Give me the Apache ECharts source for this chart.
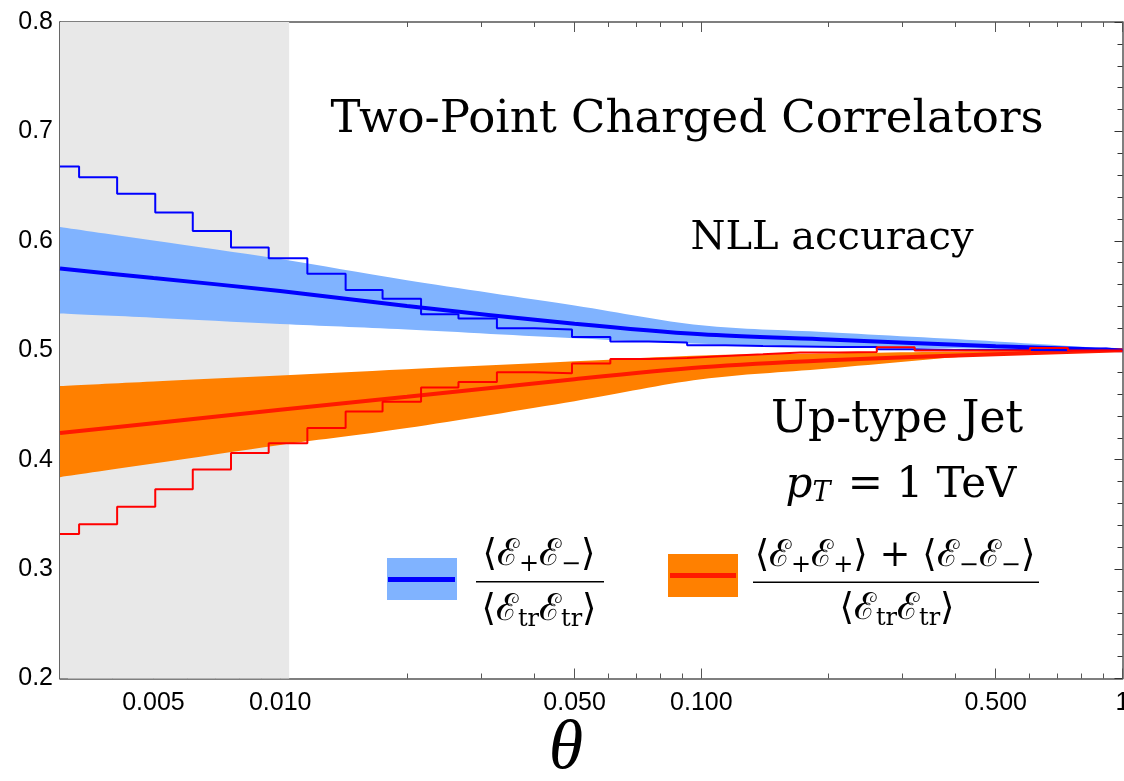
<!DOCTYPE html>
<html>
<head>
<meta charset="utf-8">
<script src="https://cdn.jsdelivr.net/npm/echarts@6/dist/echarts.min.js"></script>
<style>html,body{margin:0;padding:0;background:#fff}#c{width:1124px;height:781px}</style>
</head>
<body>
<div id="c"></div>
<script>
// ---------------- data ----------------
const xMin = 0.003, xMax = 1;
const yMin = 0.2, yMax = 0.8, yStep = 0.1;

// smooth NLL curves sampled at these angles
const thetaGrid   = [0.003, 0.005, 0.01, 0.02, 0.05, 0.1, 0.2, 0.5, 1];
const blueCentral = [0.5747, 0.5660, 0.5542, 0.5404, 0.5243, 0.5146, 0.5099, 0.5037, 0.5000];
const blueUpper   = [0.6127, 0.6003, 0.5834, 0.5640, 0.5409, 0.5228, 0.5164, 0.5081, 0.5010];
const blueLower   = [0.5335, 0.5297, 0.5239, 0.5189, 0.5109, 0.5059, 0.5031, 0.5011, 0.5000];
const redCentral  = [0.4243, 0.4333, 0.4456, 0.4574, 0.4736, 0.4844, 0.4908, 0.4963, 0.5000];
const orangeUpper = [0.4673, 0.4715, 0.4770, 0.4826, 0.4899, 0.4953, 0.4971, 0.4990, 0.5000];
const orangeLower = [0.3840, 0.3964, 0.4135, 0.4290, 0.4535, 0.4734, 0.4833, 0.4963, 0.5000];

// histogram (left bin edges, last bin closes at xMax)
const binEdges = [0.003, 0.00333, 0.0041, 0.00505, 0.0062, 0.00764, 0.00939, 0.0116, 0.0143, 0.0175,
                  0.0216, 0.0265, 0.0327, 0.0402, 0.0493, 0.0608, 0.075, 0.0925, 0.114, 0.140,
                  0.172, 0.212, 0.261, 0.321, 0.398, 0.490, 0.603, 0.742, 0.914];
const blueStep = [0.668, 0.658, 0.643, 0.626, 0.609, 0.594, 0.584, 0.570, 0.555, 0.547,
                  0.533, 0.529, 0.520, 0.519, 0.512, 0.508, 0.507, 0.5045, 0.5038, 0.5035,
                  0.503, 0.503, 0.5009, 0.5003, 0.5003, 0.5002, 0.4999, 0.5015, 0.5003];
const redStep  = [0.332, 0.341, 0.357, 0.373, 0.391, 0.406, 0.415, 0.429, 0.444, 0.453,
                  0.466, 0.471, 0.480, 0.479, 0.488, 0.492, 0.493, 0.4947, 0.4963, 0.498,
                  0.498, 0.4985, 0.5027, 0.4998, 0.4998, 0.4998, 0.502, 0.4997, 0.4998];

const shadedRange = [0.003, 0.0105];

const xMajorTicks  = [0.005, 0.01, 0.05, 0.1, 0.5, 1];
const xMajorLabels = ['0.005', '0.010', '0.050', '0.100', '0.500', '1'];
const xMinorTicks  = [0.004, 0.006, 0.007, 0.008, 0.009, 0.02, 0.03, 0.04, 0.06, 0.07, 0.08, 0.09,
                      0.2, 0.3, 0.4, 0.6, 0.7, 0.8, 0.9];

// ---------------- chart ----------------
const serif = '"DejaVu Serif", "Liberation Serif", serif';
const sans = '"Liberation Sans", Arial, sans-serif';
const frameColor = '#555';

const pairs = (xs, ys) => xs.map((x, i) => [x, ys[i]]);
const stepPairs = (edges, ys) => edges.map((x, i) => [x, ys[i]]).concat([[xMax, ys[ys.length - 1]]]);

// Catmull-Rom spline through pixel points -> SVG path segments
function splineSegs(p) {
  let d = '';
  for (let i = 0; i < p.length - 1; i++) {
    const p0 = p[Math.max(i - 1, 0)], p1 = p[i], p2 = p[i + 1], p3 = p[Math.min(i + 2, p.length - 1)];
    const c1 = [p1[0] + (p2[0] - p0[0]) / 6, p1[1] + (p2[1] - p0[1]) / 6];
    const c2 = [p2[0] - (p3[0] - p1[0]) / 6, p2[1] - (p3[1] - p1[1]) / 6];
    d += ' C' + c1[0] + ' ' + c1[1] + ' ' + c2[0] + ' ' + c2[1] + ' ' + p2[0] + ' ' + p2[1];
  }
  return d;
}

function bandSeries(name, xs, lo, hi, color, z) {
  return {
    name: name, type: 'custom', xAxisIndex: 0, yAxisIndex: 0, z: z, silent: true, clip: true,
    data: xs.map((x, i) => [x, lo[i], hi[i]]),
    encode: {x: 0, y: [1, 2]},
    renderItem: function (params, api) {
      if (params.dataIndex !== 0) return null;
      const up = xs.map((x, i) => api.coord([x, hi[i]]));
      const dn = xs.map((x, i) => api.coord([x, lo[i]])).reverse();
      const d = 'M' + up[0][0] + ' ' + up[0][1] + splineSegs(up) +
                ' L' + dn[0][0] + ' ' + dn[0][1] + splineSegs(dn) + ' Z';
      return {type: 'path', shape: {pathData: d}, style: {fill: color}};
    }
  };
}

const logMin = Math.log10(xMin), logMax = Math.log10(xMax);
function tickAxis(position, values, len, labels, showLine) {
  const pos = values.map(v => Math.log10(v));
  return {
    type: 'value', position: position, min: logMin, max: logMax, gridIndex: 0,
    axisLine: {show: !!showLine, onZero: false, lineStyle: {color: frameColor, width: 1.5}},
    splitLine: {show: false},
    minorTick: {show: false},
    axisTick: {show: true, inside: true, length: len, customValues: pos,
               lineStyle: {color: frameColor, width: 1}},
    axisLabel: labels ? {
      show: true, customValues: pos, margin: 12, color: '#000', fontSize: 25, fontFamily: sans,
      formatter: function (v) {
        let best = 0, d = 1e9;
        pos.forEach((p, i) => { const dd = Math.abs(p - v); if (dd < d) { d = dd; best = i; } });
        return labels[best];
      }
    } : {show: false}
  };
}

const yAxisBase = (position, showLabels) => ({
  type: 'value', position: position, min: yMin, max: yMax, interval: yStep,
  axisLine: {show: true, onZero: false, lineStyle: {color: position === 'left' ? '#333' : frameColor, width: 1.5}},
  axisTick: {show: true, inside: true, length: 8, lineStyle: {color: '#333', width: 1}},
  minorTick: {show: true, splitNumber: 5, length: 5, lineStyle: {color: '#333', width: 1}},
  splitLine: {show: false},
  axisLabel: showLabels ? {show: true, margin: 7, color: '#000', fontSize: 25, fontFamily: sans,
                           formatter: v => v.toFixed(1)} : {show: false}
});

const fracRich = {
  a: {fontSize: 37, fontFamily: serif},
  s: {fontSize: 24, fontFamily: serif, padding: [19, 0, 0, 0]}
};

const option = {
  animation: false,
  backgroundColor: '#fff',
  grid: {left: 60, right: 1.5, top: 22, bottom: 102.5, containLabel: false, outerBoundsMode: 'none'},
  xAxis: [
    {type: 'log', logBase: 10, min: xMin, max: xMax, position: 'bottom',
     axisLine: {show: true, onZero: false, lineStyle: {color: frameColor, width: 1.5}},
     axisTick: {show: false}, axisLabel: {show: false}, splitLine: {show: false}, minorTick: {show: false}},
    tickAxis('bottom', xMajorTicks, 10, xMajorLabels, false),
    tickAxis('bottom', xMinorTicks, 5, null, false),
    tickAxis('top', xMajorTicks, 10, null, true),
    tickAxis('top', xMinorTicks, 5, null, false)
  ],
  yAxis: [yAxisBase('left', true), yAxisBase('right', false)],
  series: [
    {name: 'shade', type: 'line', xAxisIndex: 0, yAxisIndex: 0, z: 0,
     data: [[xMin, 0.5]], showSymbol: false, symbol: 'none', lineStyle: {opacity: 0},
     markArea: {silent: true, itemStyle: {color: '#e8e8e8'},
                data: [[{xAxis: shadedRange[0]}, {xAxis: shadedRange[1]}]]}},
    bandSeries('blueBand', thetaGrid, blueLower, blueUpper, '#80b3ff', 2),
    bandSeries('orangeBand', thetaGrid, orangeLower, orangeUpper, '#ff8000', 3),
    {name: 'blueCentral', type: 'line', xAxisIndex: 0, yAxisIndex: 0, z: 4, smooth: 0.3,
     data: pairs(thetaGrid, blueCentral), symbol: 'none', lineStyle: {color: '#0000ff', width: 4}},
    {name: 'redCentral', type: 'line', xAxisIndex: 0, yAxisIndex: 0, z: 4, smooth: 0.3,
     data: pairs(thetaGrid, redCentral), symbol: 'none', lineStyle: {color: '#ff1a00', width: 4}},
    {name: 'blueStep', type: 'line', step: 'end', xAxisIndex: 0, yAxisIndex: 0, z: 5,
     data: stepPairs(binEdges, blueStep), symbol: 'none', lineStyle: {color: '#0000ff', width: 2}},
    {name: 'redStep', type: 'line', step: 'end', xAxisIndex: 0, yAxisIndex: 0, z: 5,
     data: stepPairs(binEdges, redStep), symbol: 'none', lineStyle: {color: '#ff0000', width: 2}}
  ],
  graphic: {elements: [
    {type: 'text', z: 100, x: 687, y: 120,
     style: {text: 'Two-Point Charged Correlators', fill: '#000', fontSize: 45, fontFamily: serif,
             align: 'center', verticalAlign: 'middle'}},
    {type: 'text', z: 100, x: 832, y: 239,
     style: {text: 'NLL accuracy', fill: '#000', fontSize: 40, fontFamily: serif,
             align: 'center', verticalAlign: 'middle'}},
    {type: 'text', z: 100, x: 897, y: 421,
     style: {text: 'Up-type Jet', fill: '#000', fontSize: 44, fontFamily: serif,
             align: 'center', verticalAlign: 'middle'}},
    {type: 'text', z: 100, x: 901, y: 486,
     style: {text: '{i|p}{s|T}{n| = 1 TeV}', fill: '#000', align: 'center', verticalAlign: 'middle',
             rich: {i: {fontSize: 42, fontFamily: serif, fontStyle: 'italic'},
                    s: {fontSize: 27, fontFamily: serif, fontStyle: 'italic', padding: [16, 4, 0, 0]},
                    n: {fontSize: 42, fontFamily: serif}}}},
    {type: 'text', z: 100, x: 566, y: 750,
     style: {text: 'θ', fill: '#000', fontSize: 70, fontFamily: '"Liberation Serif", serif', fontStyle: 'italic',
             align: 'center', verticalAlign: 'middle'}},
    // legend: blue
    {type: 'rect', z: 100, shape: {x: 387, y: 558, width: 70, height: 42}, style: {fill: '#80b3ff'}},
    {type: 'rect', z: 101, shape: {x: 388, y: 577, width: 67, height: 5}, style: {fill: '#0000ff'}},
    {type: 'text', z: 100, x: 539, y: 555,
     style: {text: '{a|⟨ℰ}{s|+}{a|ℰ}{s|−}{a|⟩}', fill: '#000', align: 'center', verticalAlign: 'middle', rich: fracRich}},
    {type: 'rect', z: 100, shape: {x: 476, y: 581, width: 128, height: 1.6}, style: {fill: '#000'}},
    {type: 'text', z: 100, x: 539, y: 610,
     style: {text: '{a|⟨ℰ}{s|tr}{a|ℰ}{s|tr}{a|⟩}', fill: '#000', align: 'center', verticalAlign: 'middle', rich: fracRich}},
    // legend: orange
    {type: 'rect', z: 100, shape: {x: 668, y: 554, width: 70, height: 43}, style: {fill: '#ff8000'}},
    {type: 'rect', z: 101, shape: {x: 670, y: 573, width: 66, height: 5}, style: {fill: '#ff1a00'}},
    {type: 'text', z: 100, x: 895, y: 556,
     style: {text: '{a|⟨ℰ}{s|+}{a|ℰ}{s|+}{a|⟩ + ⟨ℰ}{s|−}{a|ℰ}{s|−}{a|⟩}', fill: '#000', align: 'center', verticalAlign: 'middle', rich: fracRich}},
    {type: 'rect', z: 100, shape: {x: 753, y: 581.5, width: 286, height: 1.6}, style: {fill: '#000'}},
    {type: 'text', z: 100, x: 897, y: 609,
     style: {text: '{a|⟨ℰ}{s|tr}{a|ℰ}{s|tr}{a|⟩}', fill: '#000', align: 'center', verticalAlign: 'middle', rich: fracRich}}
  ]}
};

const chart = echarts.init(document.getElementById('c'), null, {renderer: 'canvas', width: 1124, height: 781});
chart.setOption(option);
</script>
</body>
</html>
